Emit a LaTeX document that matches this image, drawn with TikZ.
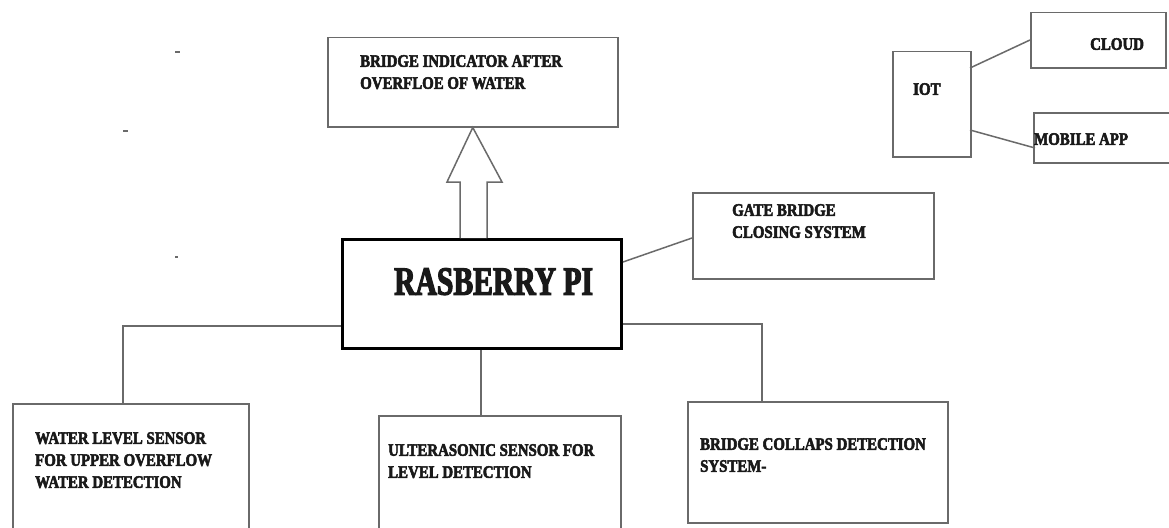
\documentclass[tikz,border=0pt]{standalone}
\usepackage{fontspec}
\newfontfamily\lblfont[FakeStretch=0.85,FakeBold=3]{Liberation Serif Bold}
\newfontfamily\bigfont[FakeStretch=0.74,FakeBold=3]{Liberation Serif Bold}
\definecolor{linegray}{HTML}{6A6A6A}
\begin{document}
\begin{tikzpicture}[x=1pt,y=-1pt,
  box/.style={draw=linegray, line width=1.5pt, rectangle, inner sep=0pt, anchor=north west},
  lbl/.style={anchor=north west, align=left, inner sep=0pt, text=black!90, font={\lblfont\fontsize{17.5}{22}\selectfont}},
  conn/.style={draw=linegray, line width=1.5pt}]
\useasboundingbox (0,0) rectangle (1169,527);
\fill[white] (0,0) rectangle (1169,527);
% boxes
\node[box, minimum width=290pt, minimum height=89pt] (ind) at (327,37) {};
\node[box, draw=black, line width=3pt, minimum width=279pt, minimum height=109pt] (rpi) at (341,238) {};
\node[box, minimum width=241pt, minimum height=86pt] (gate) at (692,192) {};
\node[box, minimum width=78pt, minimum height=105pt] (iot) at (892,51) {};
\node[box, minimum width=135pt, minimum height=55pt] (cloud) at (1030,12) {};
\node[box, minimum width=140pt, minimum height=50pt] (mob) at (1033,112) {};
\node[box, minimum width=236pt, minimum height=130pt] (wl) at (12,403) {};
\node[box, minimum width=242pt, minimum height=120pt] (us) at (378,415) {};
\node[box, minimum width=260pt, minimum height=121pt] (bc) at (687,401) {};
% labels
\node[lbl] (tind) at (360,55) {BRIDGE INDICATOR AFTER\\OVERFLOE OF WATER};
\node[lbl, font={\bigfont\fontsize{40}{42}\selectfont}] (trpi) at (394,268) {RASBERRY PI};
\node[lbl] (tgate) at (732,204) {GATE BRIDGE\\CLOSING SYSTEM};
\node[lbl] (tiot) at (913,83) {IOT};
\node[lbl] (tcloud) at (1090,38) {CLOUD};
\node[lbl] (tmob) at (1034,133) {MOBILE APP};
\node[lbl] (twl) at (35,432) {WATER LEVEL SENSOR\\FOR UPPER OVERFLOW\\WATER DETECTION};
\node[lbl] (tus) at (388,444) {ULTERASONIC SENSOR FOR\\LEVEL DETECTION};
\node[lbl] (tbc) at (700,438) {BRIDGE COLLAPS DETECTION\\SYSTEM-};
% hollow arrow
\draw[draw=linegray, line width=1.5pt, fill=white]
  (460,238) -- (460,182) -- (447,182) -- (ind.south) -- (502,182) -- (487,182) -- (487,238);
% connectors
\coordinate (gl) at (692,238);
\draw[conn] (rpi.east |- 0,262) -- (gl);
\coordinate (c1) at (1030,40);
\draw[conn] (970,68) -- (c1);
\coordinate (m1) at (1035,148);
\draw[conn] (970,130) -- (m1);
\draw[conn] (rpi.west |- 0,326) -| (wl.north -| 123,0);
\draw[conn] (rpi.south -| 481,0) -- (us.north -| 481,0);
\draw[conn] (rpi.east |- 0,324) -| (bc.north -| 762,0);
% stray marks
\draw[linegray, line width=1.2pt] (175,52) -- (180,52);
\draw[linegray, line width=1.2pt] (123,131) -- (128,131);
\draw[linegray, line width=1.2pt] (175,257) -- (178,257);
\end{tikzpicture}
\end{document}
